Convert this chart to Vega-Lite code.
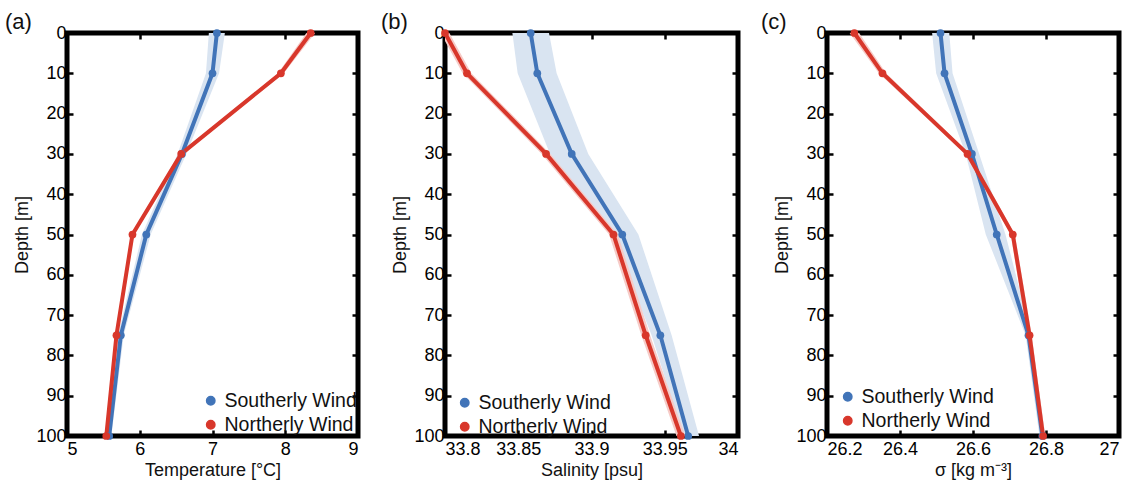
{
  "$schema": "https://vega.github.io/schema/vega-lite/v6.json",
  "padding": {"left": 2, "top": 8, "right": 0, "bottom": 0},
  "background": "white",
  "datasets": {
    "prof": [
      {"panel": "T", "wind": "Southerly Wind", "depth": 0, "val": 7.06, "lo": 6.95, "hi": 7.17},
      {"panel": "T", "wind": "Southerly Wind", "depth": 10, "val": 7.0, "lo": 6.91, "hi": 7.09},
      {"panel": "T", "wind": "Southerly Wind", "depth": 30, "val": 6.58, "lo": 6.52, "hi": 6.64},
      {"panel": "T", "wind": "Southerly Wind", "depth": 50, "val": 6.09, "lo": 6.03, "hi": 6.15},
      {"panel": "T", "wind": "Southerly Wind", "depth": 75, "val": 5.74, "lo": 5.7, "hi": 5.78},
      {"panel": "T", "wind": "Southerly Wind", "depth": 100, "val": 5.58, "lo": 5.55, "hi": 5.61},
      {"panel": "T", "wind": "Northerly Wind", "depth": 0, "val": 8.35, "lo": 8.29, "hi": 8.41},
      {"panel": "T", "wind": "Northerly Wind", "depth": 10, "val": 7.94, "lo": 7.9, "hi": 7.98},
      {"panel": "T", "wind": "Northerly Wind", "depth": 30, "val": 6.57, "lo": 6.54, "hi": 6.6},
      {"panel": "T", "wind": "Northerly Wind", "depth": 50, "val": 5.9, "lo": 5.88, "hi": 5.92},
      {"panel": "T", "wind": "Northerly Wind", "depth": 75, "val": 5.68, "lo": 5.66, "hi": 5.7},
      {"panel": "T", "wind": "Northerly Wind", "depth": 100, "val": 5.54, "lo": 5.52, "hi": 5.56},
      {"panel": "S", "wind": "Southerly Wind", "depth": 0, "val": 33.8585, "lo": 33.846, "hi": 33.871},
      {"panel": "S", "wind": "Southerly Wind", "depth": 10, "val": 33.863, "lo": 33.8496, "hi": 33.8762},
      {"panel": "S", "wind": "Southerly Wind", "depth": 30, "val": 33.8865, "lo": 33.8717, "hi": 33.8978},
      {"panel": "S", "wind": "Southerly Wind", "depth": 50, "val": 33.921, "lo": 33.9142, "hi": 33.932},
      {"panel": "S", "wind": "Southerly Wind", "depth": 75, "val": 33.947, "lo": 33.941, "hi": 33.9547},
      {"panel": "S", "wind": "Southerly Wind", "depth": 100, "val": 33.966, "lo": 33.9627, "hi": 33.9734},
      {"panel": "S", "wind": "Northerly Wind", "depth": 0, "val": 33.8, "lo": 33.797, "hi": 33.803},
      {"panel": "S", "wind": "Northerly Wind", "depth": 10, "val": 33.815, "lo": 33.812, "hi": 33.818},
      {"panel": "S", "wind": "Northerly Wind", "depth": 30, "val": 33.869, "lo": 33.866, "hi": 33.872},
      {"panel": "S", "wind": "Northerly Wind", "depth": 50, "val": 33.915, "lo": 33.912, "hi": 33.918},
      {"panel": "S", "wind": "Northerly Wind", "depth": 75, "val": 33.937, "lo": 33.934, "hi": 33.94},
      {"panel": "S", "wind": "Northerly Wind", "depth": 100, "val": 33.961, "lo": 33.958, "hi": 33.964},
      {"panel": "D", "wind": "Southerly Wind", "depth": 0, "val": 26.511, "lo": 26.488, "hi": 26.535},
      {"panel": "D", "wind": "Southerly Wind", "depth": 10, "val": 26.522, "lo": 26.499, "hi": 26.544},
      {"panel": "D", "wind": "Southerly Wind", "depth": 30, "val": 26.597, "lo": 26.58, "hi": 26.617},
      {"panel": "D", "wind": "Southerly Wind", "depth": 50, "val": 26.665, "lo": 26.635, "hi": 26.689},
      {"panel": "D", "wind": "Southerly Wind", "depth": 75, "val": 26.752, "lo": 26.744, "hi": 26.76},
      {"panel": "D", "wind": "Southerly Wind", "depth": 100, "val": 26.79, "lo": 26.782, "hi": 26.798},
      {"panel": "D", "wind": "Northerly Wind", "depth": 0, "val": 26.275, "lo": 26.262, "hi": 26.288},
      {"panel": "D", "wind": "Northerly Wind", "depth": 10, "val": 26.352, "lo": 26.342, "hi": 26.362},
      {"panel": "D", "wind": "Northerly Wind", "depth": 30, "val": 26.585, "lo": 26.578, "hi": 26.592},
      {"panel": "D", "wind": "Northerly Wind", "depth": 50, "val": 26.709, "lo": 26.703, "hi": 26.715},
      {"panel": "D", "wind": "Northerly Wind", "depth": 75, "val": 26.755, "lo": 26.749, "hi": 26.761},
      {"panel": "D", "wind": "Northerly Wind", "depth": 100, "val": 26.792, "lo": 26.786, "hi": 26.798}
    ]
  },
  "spacing": 16,
  "resolve": {"scale": {"color": "independent", "x": "independent", "y": "independent"}, "legend": {"color": "independent"}},
  "hconcat": [
    {
      "width": 291, "height": 403,
      "title": {"text": "(a)", "anchor": "start", "frame": "group", "dx": -62, "fontSize": 22, "fontWeight": "normal", "offset": -10},
      "data": {"name": "prof"},
      "transform": [{"filter": "datum.panel == 'T'"}],
      "resolve": {"axis": {"x": "independent", "y": "independent"}},
      "layer": [
        {
          "transform": [{"filter": "datum.wind == 'Southerly Wind'"}],
          "mark": {"type": "area", "orient": "horizontal", "color": "#d9e4f1", "clip": true},
          "encoding": {
            "y": {"field": "depth", "type": "quantitative", "scale": {"domain": [0, 100], "reverse": true, "nice": false}, "axis": {"orient": "right", "labels": false, "title": null, "values": [0,10,20,30,40,50,60,70,80,90,100]}},
            "x": {"field": "lo", "type": "quantitative", "scale": {"domain": [5, 9], "nice": false}, "axis": {"orient": "top", "labels": false, "title": null, "values": [5,6,7,8,9]}},
            "x2": {"field": "hi"}
          }
        },
        {
          "transform": [{"filter": "datum.wind == 'Northerly Wind'"}],
          "mark": {"type": "area", "orient": "horizontal", "color": "#f6cbc7", "clip": true},
          "encoding": {
            "y": {"field": "depth", "type": "quantitative", "axis": null},
            "x": {"field": "lo", "type": "quantitative", "axis": null},
            "x2": {"field": "hi"}
          }
        },
        {
          "mark": {"type": "line", "strokeWidth": 4},
          "encoding": {
            "y": {"field": "depth", "type": "quantitative", "axis": {"title": "Depth [m]", "values": [0,10,20,30,40,50,60,70,80,90,100], "labelPadding": 7}},
            "x": {"field": "val", "type": "quantitative", "axis": {"title": "Temperature [°C]", "values": [5,6,7,8,9], "format": "~g", "labelPadding": 10, "titlePadding": 3}},
            "color": {"field": "wind", "type": "nominal", "scale": {"domain": ["Southerly Wind", "Northerly Wind"], "range": ["#4174b8", "#d8372b"]}, "legend": {"orient": "bottom-right", "title": null, "symbolType": "circle", "labelFontSize": 19.5, "symbolSize": 70, "rowPadding": 3, "offset": 1, "padding": 0}},
            "order": {"field": "depth"}
          }
        },
        {
          "mark": {"type": "point", "filled": true, "size": 60, "opacity": 1},
          "encoding": {
            "y": {"field": "depth", "type": "quantitative", "axis": null},
            "x": {"field": "val", "type": "quantitative", "axis": null},
            "color": {"field": "wind", "type": "nominal", "legend": {"orient": "bottom-right", "title": null, "symbolType": "circle", "labelFontSize": 19.5, "symbolSize": 70, "rowPadding": 3, "offset": 1, "padding": 0}}
          }
        }
      ]
    },
    {
      "width": 293, "height": 403,
      "title": {"text": "(b)", "anchor": "start", "frame": "group", "dx": -64, "fontSize": 22, "fontWeight": "normal", "offset": -10},
      "data": {"name": "prof"},
      "transform": [{"filter": "datum.panel == 'S'"}],
      "resolve": {"axis": {"x": "independent", "y": "independent"}},
      "layer": [
        {
          "transform": [{"filter": "datum.wind == 'Southerly Wind'"}],
          "mark": {"type": "area", "orient": "horizontal", "color": "#d9e4f1", "clip": true},
          "encoding": {
            "y": {"field": "depth", "type": "quantitative", "scale": {"domain": [0, 100], "reverse": true, "nice": false}, "axis": {"orient": "right", "labels": false, "title": null, "values": [0,10,20,30,40,50,60,70,80,90,100]}},
            "x": {"field": "lo", "type": "quantitative", "scale": {"domain": [33.8, 34], "nice": false, "zero": false}, "axis": {"orient": "top", "labels": false, "title": null, "values": [33.8,33.85,33.9,33.95,34]}},
            "x2": {"field": "hi"}
          }
        },
        {
          "transform": [{"filter": "datum.wind == 'Northerly Wind'"}],
          "mark": {"type": "area", "orient": "horizontal", "color": "#f6cbc7", "clip": true},
          "encoding": {
            "y": {"field": "depth", "type": "quantitative", "axis": null},
            "x": {"field": "lo", "type": "quantitative", "axis": null},
            "x2": {"field": "hi"}
          }
        },
        {
          "mark": {"type": "line", "strokeWidth": 4},
          "encoding": {
            "y": {"field": "depth", "type": "quantitative", "axis": {"title": "Depth [m]", "values": [0,10,20,30,40,50,60,70,80,90,100], "labelPadding": 7}},
            "x": {"field": "val", "type": "quantitative", "axis": {"title": "Salinity [psu]", "values": [33.8,33.85,33.9,33.95,34], "format": "~g", "labelPadding": 10, "titlePadding": 3}},
            "color": {"field": "wind", "type": "nominal", "scale": {"domain": ["Southerly Wind", "Northerly Wind"], "range": ["#4174b8", "#d8372b"]}, "legend": {"orient": "bottom-left", "title": null, "symbolType": "circle", "labelFontSize": 19.5, "symbolSize": 70, "rowPadding": 3, "offset": -1, "symbolOffset": 11, "padding": 0}},
            "order": {"field": "depth"}
          }
        },
        {
          "mark": {"type": "point", "filled": true, "size": 60, "opacity": 1},
          "encoding": {
            "y": {"field": "depth", "type": "quantitative", "axis": null},
            "x": {"field": "val", "type": "quantitative", "axis": null},
            "color": {"field": "wind", "type": "nominal", "legend": {"orient": "bottom-left", "title": null, "symbolType": "circle", "labelFontSize": 19.5, "symbolSize": 70, "rowPadding": 3, "offset": -1, "symbolOffset": 11, "padding": 0}}
          }
        }
      ]
    },
    {
      "width": 292, "height": 403,
      "title": {"text": "(c)", "anchor": "start", "frame": "group", "dx": -66, "fontSize": 22, "fontWeight": "normal", "offset": -10},
      "data": {"name": "prof"},
      "transform": [{"filter": "datum.panel == 'D'"}],
      "resolve": {"axis": {"x": "independent", "y": "independent"}},
      "layer": [
        {
          "transform": [{"filter": "datum.wind == 'Southerly Wind'"}],
          "mark": {"type": "area", "orient": "horizontal", "color": "#d9e4f1", "clip": true},
          "encoding": {
            "y": {"field": "depth", "type": "quantitative", "scale": {"domain": [0, 100], "reverse": true, "nice": false}, "axis": {"orient": "right", "labels": false, "title": null, "values": [0,10,20,30,40,50,60,70,80,90,100]}},
            "x": {"field": "lo", "type": "quantitative", "scale": {"domain": [26.2, 27], "nice": false, "zero": false}, "axis": {"orient": "top", "labels": false, "title": null, "values": [26.2,26.4,26.6,26.8,27]}},
            "x2": {"field": "hi"}
          }
        },
        {
          "transform": [{"filter": "datum.wind == 'Northerly Wind'"}],
          "mark": {"type": "area", "orient": "horizontal", "color": "#f6cbc7", "clip": true},
          "encoding": {
            "y": {"field": "depth", "type": "quantitative", "axis": null},
            "x": {"field": "lo", "type": "quantitative", "axis": null},
            "x2": {"field": "hi"}
          }
        },
        {
          "mark": {"type": "line", "strokeWidth": 4},
          "encoding": {
            "y": {"field": "depth", "type": "quantitative", "axis": {"title": "Depth [m]", "values": [0,10,20,30,40,50,60,70,80,90,100], "labelPadding": 7}},
            "x": {"field": "val", "type": "quantitative", "axis": {"title": "σ [kg m⁻³]", "values": [26.2,26.4,26.6,26.8,27], "format": "~g", "labelPadding": 10, "titlePadding": 3}},
            "color": {"field": "wind", "type": "nominal", "scale": {"domain": ["Southerly Wind", "Northerly Wind"], "range": ["#4174b8", "#d8372b"]}, "legend": {"orient": "bottom-left", "title": null, "symbolType": "circle", "labelFontSize": 19.5, "symbolSize": 70, "rowPadding": 3, "offset": 5, "symbolOffset": 6, "padding": 0}},
            "order": {"field": "depth"}
          }
        },
        {
          "mark": {"type": "point", "filled": true, "size": 60, "opacity": 1},
          "encoding": {
            "y": {"field": "depth", "type": "quantitative", "axis": null},
            "x": {"field": "val", "type": "quantitative", "axis": null},
            "color": {"field": "wind", "type": "nominal", "legend": {"orient": "bottom-left", "title": null, "symbolType": "circle", "labelFontSize": 19.5, "symbolSize": 70, "rowPadding": 3, "offset": 5, "symbolOffset": 6, "padding": 0}}
          }
        }
      ]
    }
  ],
  "config": {
    "font": "Liberation Sans",
    "view": {"stroke": "black", "strokeWidth": 5},
    "axis": {"domain": false, "grid": false, "tickSize": -6, "tickWidth": 2.5, "tickColor": "black", "labelFont": "Liberation Sans", "labelFontSize": 18, "labelColor": "black", "titleFont": "Liberation Sans", "titleFontSize": 18, "titleFontWeight": "normal", "titleColor": "#111", "titlePadding": 4, "labelOverlap": false},
    "legend": {"labelFont": "Liberation Sans", "labelColor": "#111"},
    "title": {"color": "#111"}
  }
}
